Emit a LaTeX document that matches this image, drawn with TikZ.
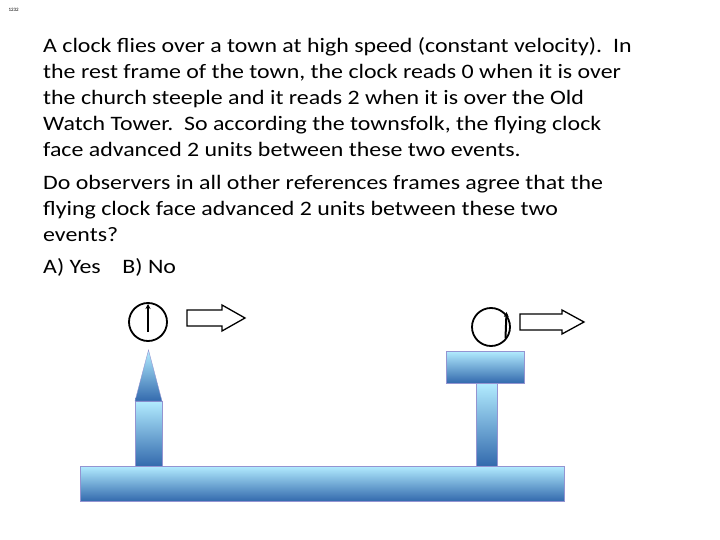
\documentclass[tikz,border=0pt]{standalone}
\usepackage{fontspec}
\usetikzlibrary{arrows.meta}
\setmainfont{Carlito}
\begin{document}
\begin{tikzpicture}[x=1pt,y=-1pt,
  bluebox/.style={draw=blue!40!gray!60, top color=blue!25!cyan!30, bottom color=blue!55!cyan!60!black!80},
  clockface/.style={draw=black, line width=1.8pt},
  hand/.style={draw=black, line width=2pt, -{Stealth[length=5pt,width=5pt]}},
  blockarrow/.style={draw=black, line width=1.3pt, fill=white}]
\useasboundingbox (0,0) rectangle (720,540);
\node[anchor=west, font=\fontsize{5}{6}\selectfont] (lbl) at (5,10) {1232};
\node[anchor=north west, inner sep=0pt] (txt) at (43,34.5)
{\scalebox{1.165}[1]{\fontsize{20.5}{26}\selectfont\begin{tabular}{@{}l@{}}
A clock flies over a town at high speed (constant velocity).\ \ In\\
the rest frame of the town, the clock reads 0 when it is over\\
the church steeple and it reads 2 when it is over the Old\\
Watch Tower.\ \ So according the townsfolk, the flying clock\\
face advanced 2 units between these two events.\\[7pt]
Do observers in all other references frames agree that the\\
flying clock face advanced 2 units between these two\\
events?\\[5.5pt]
A) Yes\ \ \ \ B) No
\end{tabular}}};
% ground
\path[bluebox] (80,466) rectangle (564,501);
% steeple
\path[bluebox] (135,401) rectangle (162,466);
\path[bluebox] (135,401) -- (148.5,350) -- (162,401) -- cycle;
% tower
\path[bluebox] (476,383) rectangle (497,466);
\path[bluebox] (446,351) rectangle (524,383);
% clock 1
\node[clockface, circle, minimum size=38pt, inner sep=0pt] (c1) at (148,322) {};
\coordinate (h1) at (148,332);
\draw[hand] (h1) -- (148,304);
% clock 2
\node[clockface, circle, minimum size=38pt, inner sep=0pt] (c2) at (491,327) {};
\coordinate (h2) at (505.5,338);
\draw[hand] (h2) -- (506.5,312);
% arrows
\draw[blockarrow] (187,310) -- (222,310) -- (222,305) -- (245,318) -- (222,331) -- (222,326) -- (187,326) -- cycle;
\draw[blockarrow] (520,314) -- (562,314) -- (562,310) -- (584,322) -- (562,334) -- (562,330) -- (520,330) -- cycle;
\end{tikzpicture}
\end{document}
